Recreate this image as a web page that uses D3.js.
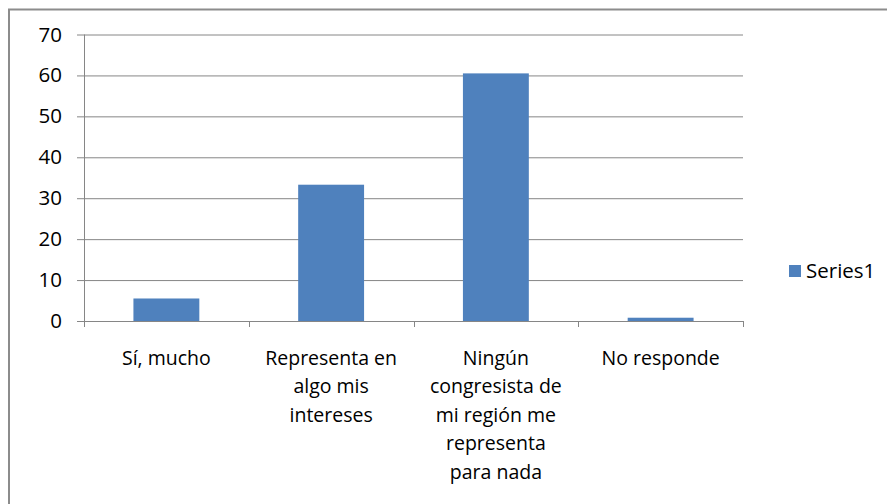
<!DOCTYPE html>
<html>
<head>
<meta charset="utf-8">
<script src="https://cdn.jsdelivr.net/npm/d3@7/dist/d3.min.js"></script>
<style>
  body { margin: 0; background: #fff; }
  text { font-family: "Open Sans", "Noto Sans", sans-serif; fill: #000; }
</style>
</head>
<body>
<svg id="chart"></svg>
<script>
  var categories = ['Sí, mucho', 'Representa en\nalgo mis\nintereses', 'Ningún\ncongresista de\nmi región me\nrepresenta\npara nada', 'No responde'];
  var values = [5.5, 33.3, 60.5, 0.8];
  var yTicks = [0, 10, 20, 30, 40, 50, 60, 70];
  var seriesName = 'Series1';

  var W = 887, H = 504;
  var margin = { top: 34.5, left: 84, right: 144, bottom: 183 };
  var width = W - margin.left - margin.right,
    height = H - margin.top - margin.bottom;

  var svg = d3.select('#chart')
    .attr('width', W)
    .attr('height', H);

  // outer chart border (only top/left visible in the picture)
  svg.append('rect')
    .attr('x', 9).attr('y', 9.5)
    .attr('width', W + 20).attr('height', H + 20)
    .attr('fill', 'none')
    .attr('stroke', '#8c8c8c')
    .attr('stroke-width', 2);

  var g = svg.append('g')
    .attr('transform', 'translate(' + margin.left + ',' + margin.top + ')');

  var x = d3.scaleBand()
    .domain(categories)
    .range([0, width])
    .paddingInner(0.6)
    .paddingOuter(0.3);

  var y = d3.scaleLinear()
    .domain([0, 70])
    .range([height, 0]);

  // gridlines + y ticks
  var yAxis = d3.axisLeft(y)
    .tickValues(yTicks)
    .tickSize(-width - 7)
    .tickPadding(14);

  g.append('g')
    .attr('transform', 'translate(' + (-7) + ',0)')
    .call(yAxis)
    .call(s => s.select('.domain').remove())
    .call(s => s.selectAll('line').attr('stroke', '#868686').attr('transform', 'translate(7,0)').attr('x2', -7).attr('x1', width + 0))
    .call(s => s.selectAll('text').attr('font-size', 20.5).attr('fill', '#000').attr('x', -15));

  // vertical axis line
  g.append('line')
    .attr('x1', 0.5).attr('x2', 0.5)
    .attr('y1', 0).attr('y2', height)
    .attr('stroke', '#868686');

  // bars
  g.selectAll('rect.bar')
    .data(values)
    .enter()
    .append('rect')
    .attr('class', 'bar')
    .attr('x', (d, i) => x(categories[i]))
    .attr('y', d => y(d))
    .attr('width', x.bandwidth())
    .attr('height', d => height - y(d))
    .attr('fill', '#4F81BD');

  // bottom axis line and ticks at band boundaries
  g.append('line')
    .attr('x1', 0).attr('x2', width)
    .attr('y1', height + 0.5).attr('y2', height + 0.5)
    .attr('stroke', '#868686');

  var step = x.step();
  var bounds = d3.range(categories.length + 1).map(i => x(categories[0]) - x.step() * x.paddingOuter() + i * step);
  g.selectAll('line.xtick')
    .data(bounds)
    .enter()
    .append('line')
    .attr('class', 'xtick')
    .attr('x1', d => Math.round(d) + 0.5).attr('x2', d => Math.round(d) + 0.5)
    .attr('y1', height).attr('y2', height + 6)
    .attr('stroke', '#868686');

  // category labels
  var labels = g.selectAll('text.cat')
    .data(categories)
    .enter()
    .append('text')
    .attr('class', 'cat')
    .attr('text-anchor', 'middle')
    .attr('font-size', 19.5)
    .attr('transform', d => 'translate(' + (x(d) + x.bandwidth() / 2) + ',' + (height + 43.5) + ')');

  labels.selectAll('tspan')
    .data(d => d.split('\n'))
    .enter()
    .append('tspan')
    .attr('x', 0)
    .attr('dy', (d, i) => i === 0 ? 0 : 28.5)
    .text(d => d);

  // legend
  var legend = svg.append('g')
    .attr('transform', 'translate(789,265)');
  legend.append('rect')
    .attr('width', 12).attr('height', 12)
    .attr('fill', '#4F81BD');
  legend.append('text')
    .attr('x', 17).attr('y', 6)
    .attr('dy', '0.35em')
    .attr('font-size', 20.5)
    .text(seriesName);
</script>
</body>
</html>
